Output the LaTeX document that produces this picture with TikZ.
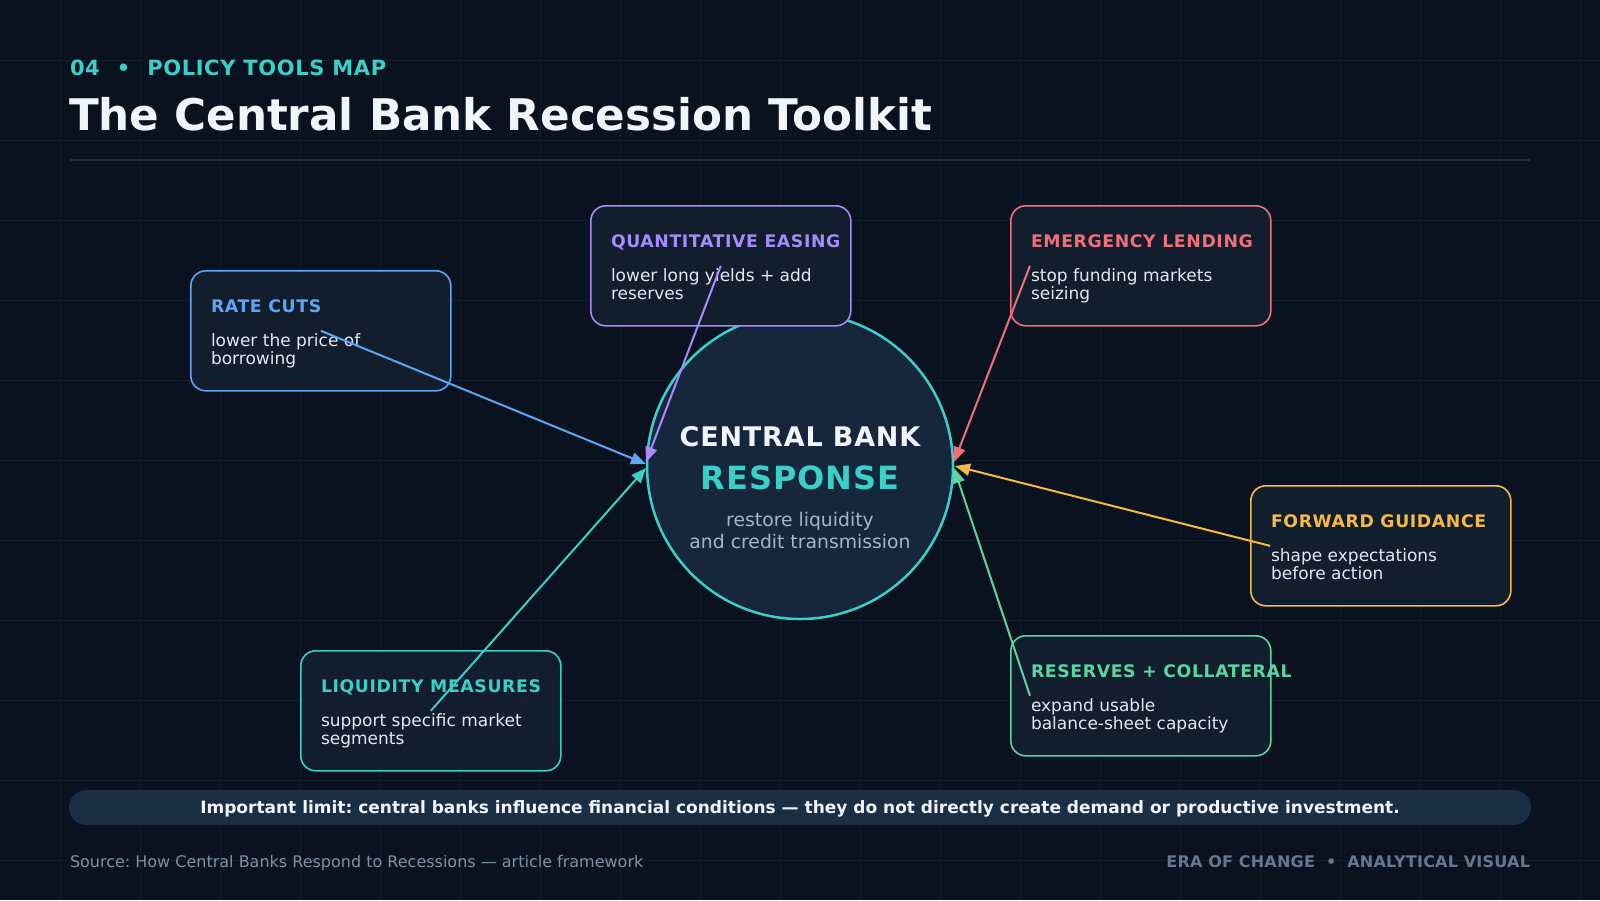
\documentclass[tikz,border=0pt]{standalone}
\usepackage{fontspec}
\setmainfont{DejaVu Sans}
\newfontfamily\trkA{DejaVu Sans}[LetterSpace=3]
\newfontfamily\trkB{DejaVu Sans}[LetterSpace=3.5]
\newfontfamily\trkC{DejaVu Sans}[LetterSpace=3]
\newfontfamily\trkD{DejaVu Sans}[LetterSpace=1.5]
\usetikzlibrary{arrows.meta,calc}
\definecolor{bg}{HTML}{0A1220}
\definecolor{gridc}{HTML}{101D2A}
\definecolor{sepc}{HTML}{1E2F45}
\definecolor{cardfill}{HTML}{121D2E}
\definecolor{circfill}{HTML}{16273D}
\definecolor{bannerc}{HTML}{1C2E44}
\definecolor{cblue}{HTML}{5EA5F8}
\definecolor{cpurple}{HTML}{A78BFA}
\definecolor{cred}{HTML}{F07079}
\definecolor{cyellow}{HTML}{F5BA45}
\definecolor{cgreen}{HTML}{5CD6A0}
\definecolor{cteal}{HTML}{3CCFC8}
\definecolor{whitec}{HTML}{F1F4FA}
\definecolor{bodyc}{HTML}{E2E8F0}
\definecolor{subc}{HTML}{A9B3C6}
\definecolor{footl}{HTML}{8090A5}
\definecolor{footr}{HTML}{66778F}
\newcommand\twoline[2]{\begin{tabular}[t]{@{}l@{}}#1\\#2\end{tabular}}
\frenchspacing
\begin{document}
\begin{tikzpicture}[x=1pt,y=-1pt,
  txt/.style={inner sep=0pt, outer sep=0pt},
  card/.style={draw, line width=1.6pt, rounded corners=15pt, fill=cardfill,
    minimum width=260pt, minimum height=120pt, inner sep=0pt, anchor=north west},
  ctitle/.style={txt, anchor=base west, font=\trkB\bfseries\fontsize{17.3}{18}\selectfont},
  cbody/.style={txt, anchor=base west, text=bodyc, font=\fontsize{17}{18}\selectfont},
  conn/.style={line width=2pt, -{Triangle[length=15pt,width=12pt]}},
]
\useasboundingbox (0,0) rectangle (1600,900);
\fill[bg] (0,0) rectangle (1600,900);
\foreach \i in {60,140,...,1580} \draw[gridc, line width=1pt] (\i,0) -- (\i,900);
\foreach \j in {60,140,...,860} \draw[gridc, line width=1pt] (0,\j) -- (1600,\j);

% header
\node[txt, anchor=base west, text=cteal, font=\trkA\bfseries\fontsize{21}{24}\selectfont] (kicker) at (70,75)
  {04\hspace{17pt}•\hspace{17pt}POLICY TOOLS MAP};
\node[txt, anchor=base west, text=whitec, font=\bfseries\fontsize{43.6}{50}\selectfont] (title) at (69,130)
  {The Central Bank Recession Toolkit};
\draw[sepc, line width=2pt] (70,160) -- (1530,160);

% centre
\node[circle, draw=cteal, line width=2.5pt, fill=circfill, minimum size=306pt, inner sep=0pt] (cb) at (800,466) {};
\node[txt, anchor=base, text=whitec, font=\trkC\bfseries\fontsize{27}{30}\selectfont] (cbA) at (800,446) {CENTRAL BANK};
\node[txt, anchor=base, text=cteal, font=\trkC\bfseries\fontsize{32}{36}\selectfont] (cbB) at (800,489) {RESPONSE};
\node[txt, anchor=base, text=subc, font=\fontsize{18.8}{22}\selectfont] (cbC) at (800,526) {restore liquidity};
\node[txt, anchor=base, text=subc, font=\fontsize{18.8}{22}\selectfont] (cbD) at (800,548) {and credit transmission};

% cards
\node[card, draw=cblue] (rate) at (190,270) {};
\node[ctitle, text=cblue] (rateT) at ($(rate.north west)+(21,42)$) {RATE CUTS};
\node[cbody] (rateB) at ($(rate.north west)+(21,76)$) {\twoline{lower the price of}{borrowing}};

\node[card, draw=cpurple] (qe) at (590,205) {};
\node[ctitle, text=cpurple] (qeT) at ($(qe.north west)+(21,42)$) {QUANTITATIVE EASING};
\node[cbody] (qeB) at ($(qe.north west)+(21,76)$) {\twoline{lower long yields + add}{reserves}};

\node[card, draw=cred] (em) at (1010,205) {};
\node[ctitle, text=cred] (emT) at ($(em.north west)+(21,42)$) {EMERGENCY LENDING};
\node[cbody] (emB) at ($(em.north west)+(21,76)$) {\twoline{stop funding markets}{seizing}};

\node[card, draw=cyellow] (fg) at (1250,485) {};
\node[ctitle, text=cyellow] (fgT) at ($(fg.north west)+(21,42)$) {FORWARD GUIDANCE};
\node[cbody] (fgB) at ($(fg.north west)+(21,76)$) {\twoline{shape expectations}{before action}};

\node[card, draw=cgreen] (res) at (1010,635) {};
\node[ctitle, text=cgreen] (resT) at ($(res.north west)+(21,42)$) {RESERVES + COLLATERAL};
\node[cbody] (resB) at ($(res.north west)+(21,76)$) {\twoline{expand usable}{balance-sheet capacity}};

\node[card, draw=cteal] (liq) at (300,650) {};
\node[ctitle, text=cteal] (liqT) at ($(liq.north west)+(21,42)$) {LIQUIDITY MEASURES};
\node[cbody] (liqB) at ($(liq.north west)+(21,76)$) {\twoline{support specific market}{segments}};

% connector ends
\coordinate (emS) at ($(em.west)+(20,0)$);
\coordinate (fgS) at ($(fg.west)+(20,0)$);
\coordinate (resS) at ($(res.west)+(20,0)$);
\coordinate (inRate) at (646,464);
\coordinate (inQe) at (646,462);
\coordinate (inLiq) at (646,468);
\coordinate (inEm) at (954,462);
\coordinate (inFg) at (955,466);
\coordinate (inRes) at (954,468);

\draw[conn, cblue] (rate.center) -- (inRate);
\draw[conn, cpurple] (qe.center) -- (inQe);
\draw[conn, cteal] (liq.center) -- (inLiq);
\draw[conn, cred] (emS) -- (inEm);
\draw[conn, cgreen] (resS) -- (inRes);
\draw[conn, cyellow] (fgS) -- (inFg);

% banner
\node[rounded corners=17.5pt, fill=bannerc, minimum width=1462pt, minimum height=35pt, inner sep=0pt,
  text height=11pt, text depth=0pt, text=whitec, font=\bfseries\fontsize{17}{20}\selectfont] (limit) at (800,807.5)
  {Important limit: central banks influence financial conditions — they do not directly create demand or productive investment.};

% footer
\node[txt, anchor=base west, text=footl, font=\fontsize{16}{20}\selectfont] (src) at (70,867)
  {Source: How Central Banks Respond to Recessions — article framework};
\node[txt, anchor=base east, text=footr, font=\trkD\bfseries\fontsize{16}{20}\selectfont] (brand) at (1530,867)
  {ERA OF CHANGE\hspace{11pt}•\hspace{11pt}ANALYTICAL VISUAL};
\end{tikzpicture}
\end{document}
